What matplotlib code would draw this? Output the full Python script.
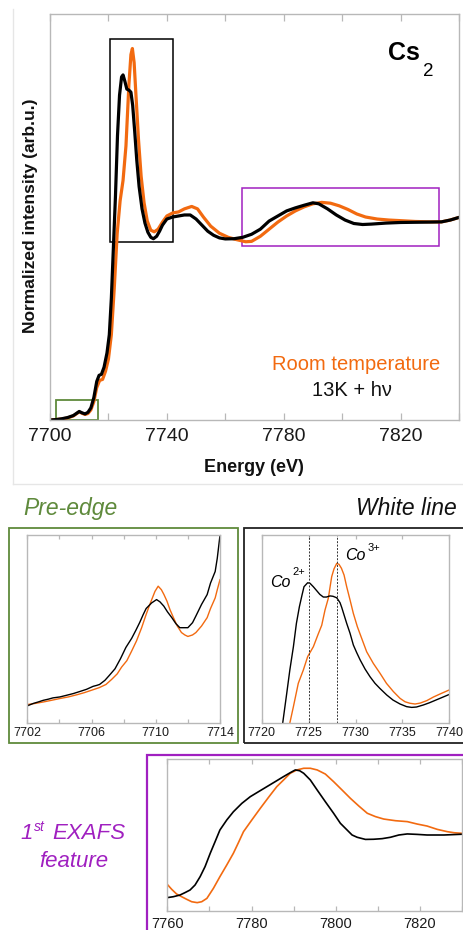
import matplotlib
matplotlib.use('Agg')
import matplotlib.pyplot as plt
from matplotlib.patches import Rectangle
from matplotlib.lines import Line2D
from matplotlib.ticker import MultipleLocator, FixedLocator

plt.rcParams['font.family'] = ['Liberation Sans', 'DejaVu Sans']

# ---------------- data ----------------
# main spectrum, 13K + hv (black)
E_black = [7700, 7702, 7704, 7706, 7708, 7709, 7710, 7711, 7712, 7713, 7714, 7715, 7716,
           7716.8, 7717.6, 7718.5, 7719.5, 7720.3, 7721, 7721.7, 7722.4, 7723.1, 7723.8,
           7724.5, 7725, 7725.6, 7726.3, 7727, 7727.7, 7728.3, 7729, 7729.7, 7730.5, 7731.5,
           7732.5, 7733.5, 7734.5, 7735.4, 7736.5, 7737.5, 7738.5, 7740, 7742, 7744, 7746,
           7748, 7750, 7752, 7754, 7756, 7758, 7760, 7763, 7766, 7769, 7772, 7775, 7778,
           7781, 7784, 7787, 7790, 7792, 7795, 7798, 7801, 7804, 7807, 7810, 7815, 7820,
           7825, 7830, 7834, 7837, 7840]
I_black = [0.0, 0.002, 0.006, 0.012, 0.022, 0.032, 0.042, 0.035, 0.03, 0.038, 0.06, 0.11, 0.19,
           0.22, 0.225, 0.26, 0.33, 0.42, 0.6, 0.85, 1.1, 1.4, 1.6,
           1.69, 1.70, 1.67, 1.63, 1.625, 1.615, 1.55, 1.42, 1.28, 1.15, 1.04,
           0.97, 0.925, 0.9, 0.893, 0.905, 0.93, 0.96, 0.99, 1.0, 1.005, 1.01,
           1.01, 0.99, 0.96, 0.93, 0.91, 0.897, 0.892, 0.893, 0.9, 0.915, 0.94, 0.98, 1.005,
           1.03, 1.045, 1.058, 1.07, 1.065, 1.04, 1.01, 0.985, 0.968, 0.963, 0.965, 0.97, 0.973,
           0.974, 0.975, 0.976, 0.985, 0.998]

# main spectrum, room temperature (orange)
E_orange = [7700, 7702, 7704, 7706, 7708, 7709, 7710, 7711, 7712, 7713, 7714, 7715, 7716,
            7717, 7718, 7719, 7720, 7721, 7722, 7723, 7724, 7725, 7726, 7727, 7727.7, 7728.2,
            7728.8, 7729.5, 7730.3, 7731.2, 7732.2, 7733.3, 7734.5, 7735.7, 7737, 7738.5,
            7740, 7742, 7744, 7746, 7748.5, 7750.5, 7752.5, 7755, 7758, 7761, 7764, 7767,
            7769, 7772, 7775, 7778, 7781, 7784, 7787, 7790, 7793, 7796, 7799, 7802, 7805,
            7808, 7812, 7816, 7820, 7825, 7830, 7834, 7837, 7840]
I_orange = [0.0, 0.002, 0.005, 0.01, 0.02, 0.03, 0.04, 0.033, 0.027, 0.032, 0.05, 0.09, 0.16,
            0.195, 0.2, 0.24, 0.3, 0.42, 0.65, 0.92, 1.08, 1.18, 1.35, 1.65, 1.80, 1.83,
            1.76, 1.58, 1.38, 1.2, 1.07, 0.98, 0.935, 0.927, 0.94, 0.975,
            1.005, 1.02, 1.025, 1.04, 1.052, 1.04, 1.0, 0.955, 0.92, 0.9, 0.888, 0.878,
            0.88, 0.905, 0.94, 0.975, 1.005, 1.03, 1.05, 1.065, 1.072, 1.068, 1.055, 1.037, 1.015,
            1.0, 0.99, 0.985, 0.982, 0.978, 0.976, 0.976, 0.985, 0.998]

# pre-edge inset
E_pre_black = [7702, 7702.37, 7702.68, 7703.0, 7703.31, 7703.6, 7704.03, 7704.45, 7704.86, 7705.3,
               7705.69, 7706.1, 7706.32, 7706.5, 7706.83, 7707.1, 7707.46, 7707.8, 7708.14, 7708.5,
               7708.76, 7709.0, 7709.22, 7709.4, 7709.74, 7710.05, 7710.26, 7710.5, 7710.73, 7711.0,
               7711.25, 7711.5, 7711.75, 7712.0, 7712.29, 7712.5, 7712.85, 7713.2, 7713.41, 7713.7,
               7713.83, 7714.0]
I_pre_black = [0.092, 0.105, 0.113, 0.122, 0.128, 0.135, 0.140, 0.149, 0.158, 0.170,
               0.181, 0.197, 0.202, 0.207, 0.229, 0.255, 0.291, 0.345, 0.406, 0.455,
               0.498, 0.540, 0.583, 0.615, 0.645, 0.663, 0.651, 0.628, 0.597, 0.566,
               0.534, 0.512, 0.512, 0.512, 0.539, 0.575, 0.637, 0.690, 0.752, 0.814,
               0.885, 1.009]
E_pre_orange = [7702, 7702.48, 7703.0, 7703.51, 7704.0, 7704.55, 7705.1, 7705.55, 7706.0, 7706.48,
                7706.9, 7707.25, 7707.6, 7707.87, 7708.2, 7708.49, 7708.8, 7709.12, 7709.4, 7709.63,
                7709.95, 7710.15, 7710.35, 7710.51, 7710.7, 7710.88, 7711.1, 7711.34, 7711.6, 7711.81,
                7712.0, 7712.29, 7712.5, 7712.85, 7713.2, 7713.41, 7713.7, 7713.83, 7714.0]
I_pre_orange = [0.099, 0.105, 0.113, 0.122, 0.131, 0.140, 0.152, 0.163, 0.176, 0.190,
                0.207, 0.234, 0.264, 0.300, 0.335, 0.385, 0.441, 0.512, 0.583, 0.637,
                0.707, 0.735, 0.716, 0.690, 0.654, 0.610, 0.566, 0.521, 0.486, 0.473,
                0.465, 0.473, 0.486, 0.521, 0.566, 0.615, 0.672, 0.716, 0.770]

# white line inset
E_wl_black = [7722.1, 7722.24, 7722.67, 7723.0, 7723.38, 7723.7, 7724.02, 7724.3, 7724.51, 7724.9,
              7725.15, 7725.5, 7725.86, 7726.2, 7726.57, 7726.9, 7727.28, 7727.6, 7728.0, 7728.35,
              7728.53, 7729.06, 7729.42, 7729.77, 7730.13, 7730.5, 7731.02, 7731.55, 7732.08, 7732.6,
              7733.33, 7734.0, 7734.75, 7735.45, 7735.99, 7736.5, 7737.24, 7737.9, 7739.0, 7740.0]
I_wl_black = [-0.03, 0.0, 0.158, 0.282, 0.406, 0.530, 0.619, 0.681, 0.725, 0.746,
              0.743, 0.725, 0.704, 0.684, 0.670, 0.670, 0.676, 0.674, 0.666, 0.640,
              0.615, 0.530, 0.477, 0.415, 0.374, 0.335, 0.287, 0.246, 0.211, 0.184,
              0.149, 0.122, 0.101, 0.087, 0.083, 0.085, 0.096, 0.108, 0.131, 0.152]
E_wl_orange = [7722.9, 7723.0, 7723.38, 7723.9, 7724.44, 7724.9, 7725.51, 7726.0, 7726.4, 7726.75,
               7727.1, 7727.46, 7727.71, 7728.0, 7728.24, 7728.5, 7728.78, 7729.06, 7729.42, 7729.77,
               7730.2, 7730.66, 7731.19, 7731.9, 7732.62, 7733.3, 7734.04, 7734.75, 7735.28, 7735.8,
               7736.35, 7736.9, 7737.6, 7738.3, 7739.0, 7740.0]
I_wl_orange = [-0.03, 0.0, 0.087, 0.211, 0.282, 0.353, 0.406, 0.470, 0.520, 0.601,
               0.663, 0.778, 0.820, 0.849, 0.844, 0.823, 0.787, 0.725, 0.654, 0.583,
               0.512, 0.450, 0.379, 0.317, 0.264, 0.211, 0.167, 0.131, 0.113, 0.105,
               0.101, 0.106, 0.119, 0.138, 0.154, 0.176]
E_co2, E_co3 = 7725, 7728

# EXAFS inset
E_ex_black = [7760, 7761.43, 7763, 7764.21, 7765.4, 7766.59, 7767.8, 7768.97, 7770.2, 7771.35,
              7772.5, 7774.13, 7775.7, 7777.7, 7779.7, 7781.67, 7783.65, 7785.63, 7787.6, 7789.21,
              7790.4, 7791.43, 7792.4, 7793.97, 7795.6, 7797.54, 7799.5, 7801.11, 7802.7, 7803.89,
              7805.1, 7807.06, 7809, 7811.03, 7813, 7815.0, 7817, 7819.37, 7821.7, 7825.71, 7830]
I_ex_black = [0.088, 0.094, 0.105, 0.121, 0.138, 0.171, 0.226, 0.292, 0.380, 0.456,
              0.533, 0.599, 0.653, 0.708, 0.752, 0.785, 0.818, 0.851, 0.884, 0.910,
              0.928, 0.923, 0.906, 0.862, 0.796, 0.719, 0.643, 0.577, 0.533, 0.500,
              0.485, 0.471, 0.472, 0.476, 0.485, 0.500, 0.507, 0.504, 0.500, 0.500, 0.505]
E_ex_orange = [7760, 7761.03, 7762.2, 7763.41, 7764.6, 7765.79, 7767.1, 7768.17, 7769.4, 7770.95,
               7772.5, 7774.13, 7775.7, 7776.9, 7778.1, 7780.08, 7782.1, 7784.05, 7786, 7787.62,
               7789.2, 7790.79, 7792.4, 7793.97, 7795.6, 7797.54, 7799.5, 7801.51, 7803.5, 7805.48,
               7807.5, 7809.44, 7811.4, 7814.21, 7817, 7819.37, 7821.7, 7824.13, 7826.5, 7828.1, 7830]
I_ex_orange = [0.175, 0.143, 0.112, 0.094, 0.077, 0.061, 0.055, 0.061, 0.083, 0.149,
               0.226, 0.303, 0.380, 0.450, 0.522, 0.599, 0.676, 0.748, 0.818, 0.862,
               0.906, 0.928, 0.939, 0.939, 0.928, 0.901, 0.851, 0.796, 0.741, 0.691,
               0.643, 0.621, 0.605, 0.594, 0.588, 0.572, 0.559, 0.537, 0.522, 0.515, 0.511]

# ---------------- style ----------------
ORANGE = '#f26a10'
GREEN = '#5f8a3c'
PURPLE = '#a020c0'
SPINE = '#b8b8b8'
W, H = 463, 930


def fx(x):
    return x / W


def fy(y):
    return 1 - y / H


def style(ax, length, labelsize, pad):
    for s in ax.spines.values():
        s.set_color(SPINE)
        s.set_linewidth(1.0)
    ax.tick_params(axis='x', which='both', direction='in', top=True, bottom=True,
                   color=SPINE, length=length, width=0.9, labelsize=labelsize,
                   labelcolor='#1a1a1a', pad=pad)
    ax.tick_params(axis='y', which='both', left=False, right=False, labelleft=False)


fig = plt.figure(figsize=(W / 100, H / 100), dpi=100)

# faint frame of upper panel
fig.add_artist(Line2D([fx(12.5), fx(12.5)], [fy(9), fy(484)], color='#e6e6e6', lw=1))
fig.add_artist(Line2D([fx(12.5), fx(470)], [fy(484), fy(484)], color='#e6e6e6', lw=1))

# ---- main axes ----
ax = fig.add_axes([fx(50), fy(420), 409 / W, 406 / H])
ax.plot(E_orange, I_orange, color=ORANGE, lw=2.3, solid_joinstyle='round', solid_capstyle='round')
ax.plot(E_black, I_black, color='black', lw=2.3, solid_joinstyle='round', solid_capstyle='round')
ax.set_xlim(7700, 7840)
ax.set_ylim(0, 2.0)
ax.xaxis.set_major_locator(FixedLocator([7700, 7740, 7780, 7820]))
ax.xaxis.set_minor_locator(MultipleLocator(20))
style(ax, 5, 14, 6)
ax.add_patch(Rectangle((7720.6, 0.877), 21.6, 1.0, fill=False, ec='black', lw=1.1))
ax.add_patch(Rectangle((7702, 0.0), 14.5, 0.1, fill=False, ec=GREEN, lw=1.3, clip_on=False))
ax.add_patch(Rectangle((7765.8, 0.857), 67.2, 0.286, fill=False, ec=PURPLE, lw=1.1))

fig.text(fx(30), fy(216), 'Normalized intensity (arb.u.)', rotation=90, ha='center',
         va='center', fontsize=12.5, fontweight='bold', color='#111111')
fig.text(fx(254), fy(467), 'Energy (eV)', ha='center', va='center', fontsize=13,
         fontweight='bold', color='#111111')
fig.text(fx(388), fy(60), 'Cs', ha='left', va='baseline', fontsize=18, fontweight='bold')
fig.text(fx(423), fy(76), '2', ha='left', va='baseline', fontsize=13.5)
fig.text(fx(356), fy(370), 'Room temperature', ha='center', va='baseline', fontsize=14.5,
         color=ORANGE)
fig.text(fx(352), fy(396), '13K + hν', ha='center', va='baseline', fontsize=14.5,
         color='#111111')

# ---- inset frames and titles ----
fig.add_artist(Rectangle((fx(8.5), fy(743)), (238 - 8.5) / W, (743 - 528) / H, fill=False,
                         ec=GREEN, lw=1.3, transform=fig.transFigure))
fig.add_artist(Rectangle((fx(243.5), fy(743)), (475 - 243.5) / W, (743 - 528) / H, fill=False,
                         ec='#222222', lw=1.3, transform=fig.transFigure))
fig.add_artist(Rectangle((fx(146.5), fy(945)), (475 - 146.5) / W, (945 - 755) / H, fill=False,
                         ec=PURPLE, lw=1.6, transform=fig.transFigure))
fig.text(fx(23), fy(515), 'Pre-edge', ha='left', va='baseline', fontsize=16.5,
         style='italic', color=GREEN)
fig.text(fx(457), fy(515), 'White line', ha='right', va='baseline', fontsize=16.5,
         style='italic', color='#111111')

# ---- pre-edge inset ----
a1 = fig.add_axes([fx(27.3), fy(723), 192.7 / W, 188 / H])
a1.plot(E_pre_orange, I_pre_orange, color=ORANGE, lw=1.0)
a1.plot(E_pre_black, I_pre_black, color='black', lw=1.0)
a1.set_xlim(7702, 7714)
a1.set_ylim(0, 1.01)
a1.xaxis.set_major_locator(FixedLocator([7702, 7706, 7710, 7714]))
a1.xaxis.set_minor_locator(MultipleLocator(2))
style(a1, 3, 9, 3)

# ---- white line inset ----
a2 = fig.add_axes([fx(261.7), fy(723), 187.6 / W, 188 / H])
a2.plot(E_wl_orange, I_wl_orange, color=ORANGE, lw=1.0)
a2.plot(E_wl_black, I_wl_black, color='black', lw=1.0)
a2.axvline(E_co2, color='#333333', lw=0.7, ls=(0, (2, 1.5)))
a2.axvline(E_co3, color='#333333', lw=0.7, ls=(0, (2, 1.5)))
a2.set_xlim(7720, 7740)
a2.set_ylim(0, 1)
a2.xaxis.set_major_locator(MultipleLocator(5))
style(a2, 3, 9, 3)
fig.text(fx(270), fy(587), 'Co', ha='left', va='baseline', fontsize=11.5, style='italic')
fig.text(fx(292), fy(575), '2+', ha='left', va='baseline', fontsize=8)
fig.text(fx(345), fy(560), 'Co', ha='left', va='baseline', fontsize=11.5, style='italic')
fig.text(fx(367.5), fy(551), '3+', ha='left', va='baseline', fontsize=8)

# ---- EXAFS inset ----
a3 = fig.add_axes([fx(167.3), fy(911), 294.7 / W, 152 / H])
a3.plot(E_ex_orange, I_ex_orange, color=ORANGE, lw=1.2)
a3.plot(E_ex_black, I_ex_black, color='black', lw=1.2)
a3.set_xlim(7760, 7830)
a3.set_ylim(0, 1)
a3.xaxis.set_major_locator(MultipleLocator(20))
a3.xaxis.set_minor_locator(MultipleLocator(10))
style(a3, 3.5, 10.5, 4)

fig.text(fx(20), fy(839), '1', ha='left', va='baseline', fontsize=16, style='italic', color=PURPLE)
fig.text(fx(34), fy(831), 'st', ha='left', va='baseline', fontsize=10, style='italic', color=PURPLE)
fig.text(fx(52), fy(839), 'EXAFS', ha='left', va='baseline', fontsize=16, style='italic',
         color=PURPLE)
fig.text(fx(73.5), fy(867), 'feature', ha='center', va='baseline', fontsize=16, style='italic',
         color=PURPLE)

fig.savefig('out.png', dpi=100)
